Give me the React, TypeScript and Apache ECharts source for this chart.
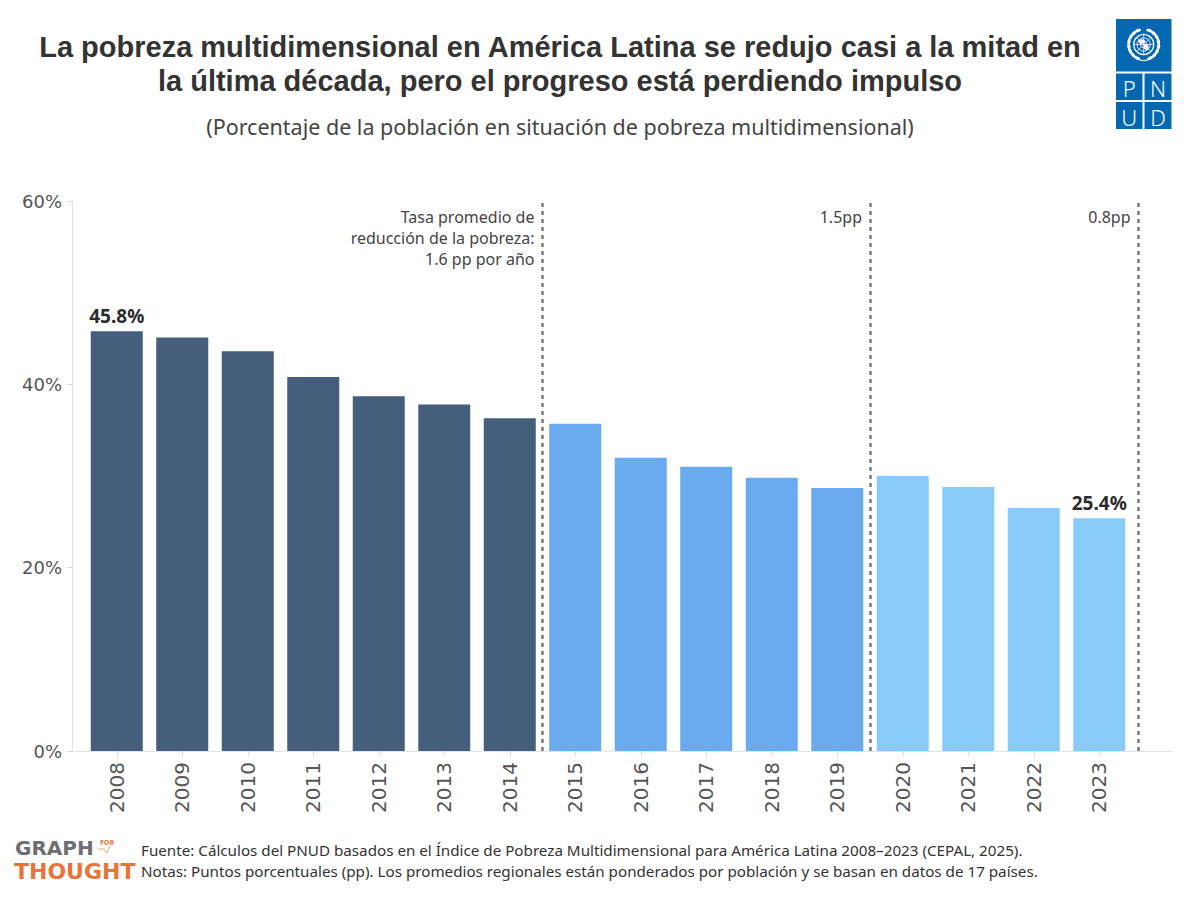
import React, { useEffect, useRef } from "react";
import * as echarts from "echarts";

const years = ["2008", "2009", "2010", "2011", "2012", "2013", "2014", "2015", "2016", "2017", "2018", "2019", "2020", "2021", "2022", "2023"];
const values = [45.8, 45.1, 43.6, 40.8, 38.7, 37.8, 36.3, 35.7, 32.0, 31.0, 29.8, 28.7, 30.0, 28.8, 26.5, 25.4];
const periodOfYear = [0, 0, 0, 0, 0, 0, 0, 1, 1, 1, 1, 1, 2, 2, 2, 2];
const periodColors = ["#445e7b", "#6aabf0", "#89cbf8"];
const labeledYears = ["2008", "2023"];
const dividerPositions = [6.5, 11.5, 15.6];
const dividerLabels = ["Tasa promedio de\nreducción de la pobreza:\n1.6 pp por año", "1.5pp", "0.8pp"];
const yTicks = { min: 0, max: 60, interval: 20 };

const titleLines = [
  "La pobreza multidimensional en América Latina se redujo casi a la mitad en",
  "la última década, pero el progreso está perdiendo impulso",
];
const subtitle = "(Porcentaje de la población en situación de pobreza multidimensional)";
const sourceLines = [
  "Fuente: Cálculos del PNUD basados en el Índice de Pobreza Multidimensional para América Latina 2008–2023 (CEPAL, 2025).",
  "Notas: Puntos porcentuales (pp). Los promedios regionales están ponderados por población y se basan en datos de 17 países.",
];

const FONT = "'Noto Sans', sans-serif";
const TITLE_FONT = "'Liberation Sans', Arial, sans-serif";
const AXIS_FONT = "'DejaVu Sans', sans-serif";
const UNDP_BLUE = "#0468b1";

function emblem(cx: number, cy: number): any[] {
  const els: any[] = [];
  els.push({ type: "circle", shape: { cx, cy, r: 10 }, style: { fill: "none", stroke: "#fff", lineWidth: 1.3 } });
  els.push({ type: "circle", shape: { cx, cy, r: 6.6 }, style: { fill: "none", stroke: "#fff", lineWidth: 0.8 } });
  els.push({ type: "circle", shape: { cx, cy, r: 3.3 }, style: { fill: "none", stroke: "#fff", lineWidth: 0.8 } });
  for (let k = 0; k < 8; k++) {
    const a = (Math.PI / 4) * k;
    els.push({
      type: "line",
      shape: { x1: cx, y1: cy, x2: cx + 10 * Math.cos(a), y2: cy + 10 * Math.sin(a) },
      style: { stroke: "#fff", lineWidth: 0.7 },
    });
  }
  els.push({ type: "ellipse", shape: { cx: cx - 2, cy: cy - 3, rx: 3.5, ry: 2.2 }, style: { fill: "#fff" } });
  els.push({ type: "ellipse", shape: { cx: cx + 2.5, cy: cy + 2.5, rx: 2.5, ry: 3 }, style: { fill: "#fff" } });
  for (const side of [-1, 1]) {
    for (let k = 0; k < 8; k++) {
      const th = ((25 + k * 19) * Math.PI) / 180;
      const x = cx + side * 15 * Math.sin(th);
      const y = cy + 15 * Math.cos(th);
      els.push({
        type: "ellipse",
        x,
        y,
        rotation: side * (th - Math.PI / 2),
        shape: { cx: 0, cy: 0, rx: 1.6, ry: 3.2 },
        style: { fill: "#fff" },
      });
    }
  }
  els.push({
    type: "arc",
    shape: { cx, cy: cy + 2, r: 14, startAngle: Math.PI * 0.35, endAngle: Math.PI * 0.65 },
    style: { stroke: "#fff", lineWidth: 1.2, fill: "none" },
  });
  return els;
}

function logoGraphics(): any[] {
  const els: any[] = [];
  els.push({ type: "rect", shape: { x: 1116, y: 19, width: 55.5, height: 52.5 }, style: { fill: UNDP_BLUE } });
  const cells = [
    { x: 1116, y: 73.5, w: 26.5, h: 26.5, t: "P" },
    { x: 1144.5, y: 73.5, w: 27, h: 26.5, t: "N" },
    { x: 1116, y: 102, w: 26.5, h: 27, t: "U" },
    { x: 1144.5, y: 102, w: 27, h: 27, t: "D" },
  ];
  for (const c of cells) {
    els.push({ type: "rect", shape: { x: c.x, y: c.y, width: c.w, height: c.h }, style: { fill: UNDP_BLUE } });
    els.push({
      type: "text",
      x: c.x + c.w / 2,
      y: c.y + c.h / 2 + 1,
      style: { text: c.t, fill: "#fff", font: `300 22px ${FONT}`, align: "center", verticalAlign: "middle" },
    });
  }
  els.push(...emblem(1143.7, 44.5));
  return els;
}

function footerGraphics(): any[] {
  const orange = "#e8743b";
  const logoFont = "'DejaVu Sans', sans-serif";
  return [
    { type: "text", x: 15, y: 848, style: { text: "GRAPH", fill: "#6d6e71", font: `bold 20px ${logoFont}`, verticalAlign: "middle", lineHeight: 20 } },
    { type: "text", x: 100, y: 842, style: { text: "FOR", fill: orange, font: `bold 7px ${FONT}`, verticalAlign: "middle", lineHeight: 7 } },
    {
      type: "polyline",
      shape: { points: [[98, 849], [104, 849], [107, 853], [110, 846]] },
      style: { stroke: "#eea784", lineWidth: 1, fill: "none" },
    },
    { type: "text", x: 14, y: 871, style: { text: "THOUGHT", fill: orange, font: `bold 22px ${logoFont}`, verticalAlign: "middle", lineHeight: 22 } },
    { type: "text", x: 141, y: 850, style: { text: sourceLines[0], fill: "#333", font: `15.2px ${FONT}`, verticalAlign: "middle", lineHeight: 19 } },
    { type: "text", x: 141, y: 871, style: { text: sourceLines[1], fill: "#333", font: `15.2px ${FONT}`, verticalAlign: "middle", lineHeight: 19 } },
  ];
}

function headerGraphics(): any[] {
  return [
    { type: "text", x: 560, y: 47, style: { text: titleLines[0], fill: "#333", font: `bold 29px ${TITLE_FONT}`, align: "center", verticalAlign: "middle", lineHeight: 31 } },
    { type: "text", x: 560, y: 80.5, style: { text: titleLines[1], fill: "#333", font: `bold 29px ${TITLE_FONT}`, align: "center", verticalAlign: "middle", lineHeight: 31 } },
    { type: "text", x: 560, y: 126, style: { text: subtitle, fill: "#444", font: `21.5px ${FONT}`, align: "center", verticalAlign: "middle" } },
  ];
}

export default function App() {
  const ref = useRef<HTMLDivElement>(null);
  useEffect(() => {
    if (!ref.current) return;
    const chart = echarts.init(ref.current, undefined, { renderer: "svg" });
    const gridTop = 201;
    const gridBottom = 149;
    const option: any = {
      animation: false,
      backgroundColor: "#fff",
      grid: [
        { left: 84, right: 68, top: gridTop, bottom: gridBottom },
        { left: 72, right: 28, top: gridTop, bottom: gridBottom },
      ],
      xAxis: [
        {
          type: "category",
          gridIndex: 0,
          data: years,
          axisLine: { show: false },
          axisTick: { show: true, alignWithLabel: true, length: 6, lineStyle: { color: "#dddddd" } },
          axisLabel: { rotate: 90, fontSize: 20, color: "#555", fontFamily: AXIS_FONT, margin: 11 },
        },
        {
          type: "value",
          gridIndex: 1,
          min: -0.6832,
          max: 16.111,
          axisLine: { show: true, onZero: false, lineStyle: { color: "#e3e3e3" } },
          axisTick: { show: false },
          axisLabel: { show: false },
          splitLine: { show: false },
        },
      ],
      yAxis: [
        { type: "value", gridIndex: 0, min: yTicks.min, max: yTicks.max, show: false },
        {
          type: "value",
          gridIndex: 1,
          min: yTicks.min,
          max: yTicks.max,
          interval: yTicks.interval,
          axisLine: { show: true, onZero: false, lineStyle: { color: "#e3e3e3" } },
          axisTick: { show: true, length: 5, lineStyle: { color: "#dddddd" } },
          axisLabel: { formatter: "{value}%", fontSize: 18, color: "#555", fontFamily: AXIS_FONT, margin: 10 },
          splitLine: { show: false },
        },
      ],
      series: [
        {
          type: "bar",
          xAxisIndex: 0,
          yAxisIndex: 0,
          barWidth: 52,
          data: values.map((v, i) => ({
            value: v,
            itemStyle: { color: periodColors[periodOfYear[i]] },
            label: {
              show: labeledYears.includes(years[i]),
              position: "top",
              distance: 6,
              formatter: "{c}%",
              fontSize: 19,
              fontWeight: "bold",
              color: "#2b2b2b",
              fontFamily: FONT,
            },
          })),
        },
        {
          type: "line",
          xAxisIndex: 1,
          yAxisIndex: 1,
          data: [],
          markLine: {
            silent: true,
            symbol: "none",
            label: { show: false },
            lineStyle: { type: [4, 4], color: "#7a7a7a", width: 2.5 },
            data: dividerPositions.map((x) => ({ xAxis: x })),
          },
        },
      ],
    };
    chart.setOption(option);
    const annotations = dividerPositions.map((pos, i) => {
      const px = chart.convertToPixel({ xAxisIndex: 1 } as any, pos) as unknown as number;
      return {
        type: "text",
        x: px - 8,
        y: 206,
        style: {
          text: dividerLabels[i],
          fill: "#444",
          font: `16px ${FONT}`,
          align: "right",
          verticalAlign: "top",
          lineHeight: 21,
        },
      };
    });
    chart.setOption({ graphic: [...headerGraphics(), ...logoGraphics(), ...footerGraphics(), ...annotations] });
    return () => chart.dispose();
  }, []);
  return <div ref={ref} style={{ position: "fixed", left: 0, top: 0, width: 1200, height: 900 }} />;
}
